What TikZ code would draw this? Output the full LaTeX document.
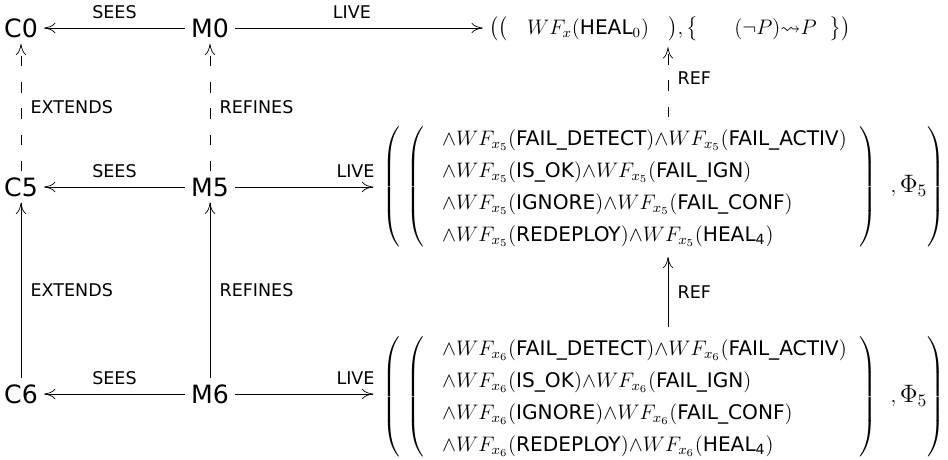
\documentclass[tikz,border=0pt]{standalone}
\usepackage[no-math]{fontspec}
\setsansfont{DejaVu Sans}
\usepackage{amsmath,amssymb}
\usetikzlibrary{arrows.meta}
\tikzset{
  >={To[length=6.5pt,width=6pt]},
  mach/.style={font=\sffamily\Large},
  lab/.style={font=\sffamily},
  tuple/.style={inner xsep=0pt,inner ysep=3pt,font=\fontsize{11.5}{13.8}\selectfont},
  refine/.style={->,dash pattern=on 6pt off 9pt},
}
\newcommand{\wfrow}[3]{{\wedge}WF_{x_{#1}}(\textsf{#2}){\wedge}WF_{x_{#1}}(\textsf{#3})}
\newcommand{\bigtuple}[1]{$\left(\hspace{4pt}\delimitershortfall=-5pt
  \left(\renewcommand{\arraystretch}{1.33}\begin{array}{@{\hspace{10pt}}l@{\hspace{7pt}}}
  \wfrow{#1}{FAIL\_DETECT}{FAIL\_ACTIV}\\
  \wfrow{#1}{IS\_OK}{FAIL\_IGN}\\
  \wfrow{#1}{IGNORE}{FAIL\_CONF}\\
  \wfrow{#1}{REDEPLOY}{HEAL\textsubscript{4}}
\end{array}\right)\hspace{6pt},\text{\fontsize{14.4}{17}\selectfont$\Phi_5$}\delimitershortfall=5pt\right)$}
\begin{document}
\begin{tikzpicture}[x=0.5714pt,y=-0.5714pt]
  \useasboundingbox (0,0) rectangle (948,460);
  \foreach \n/\y in {0/28,5/187,6/394} {
    \node[mach] (C\n) at (21,\y) {C\n};
    \node[mach] (M\n) at (210,\y) {M\n};
  }
  \node[tuple,anchor=west] (t0) at (489,29) {$\bigl(\bigl(\hspace{11pt}WF_x(\textsf{HEAL}_0)\hspace{11pt}\bigr),\bigl\{\hspace{20.5pt}(\neg P){\leadsto}P\hspace{7.5pt}\bigr\}\bigr)$};
  \node[tuple,anchor=west] (t5) at (382,187) {\bigtuple{5}};
  \node[tuple,anchor=west] (t6) at (382,397) {\bigtuple{6}};
  \coordinate (refx) at (668,0);
  \foreach \n in {0,5,6} \draw[->] (M\n) -- node[lab,above=2pt]{SEES} (C\n);
  \draw[->,shorten >=3.5pt] (M0) -- node[lab,above=2pt,pos=0.46]{LIVE} (M0 -| t0.west);
  \foreach \n in {5,6} \draw[->,shorten >=5pt] (M\n) -- node[lab,above=2pt,pos=0.82]{LIVE} (M\n -| t\n.west);
  \draw[refine] (C5) -- node[lab,right=2pt]{EXTENDS} (C0);
  \draw[->] (C6) -- node[lab,right=2pt]{EXTENDS} (C5);
  \draw[refine] (M5) -- node[lab,right=2pt]{REFINES} (M0);
  \draw[->] (M6) -- node[lab,right=2pt]{REFINES} (M5);
  \draw[refine] (t5.north -| refx) -- node[lab,right=2pt,pos=0.56]{REF} (t0.south -| refx);
  \draw[->] (t6.north -| refx) -- node[lab,right=2pt]{REF} (t5.south -| refx);
\end{tikzpicture}
\end{document}
